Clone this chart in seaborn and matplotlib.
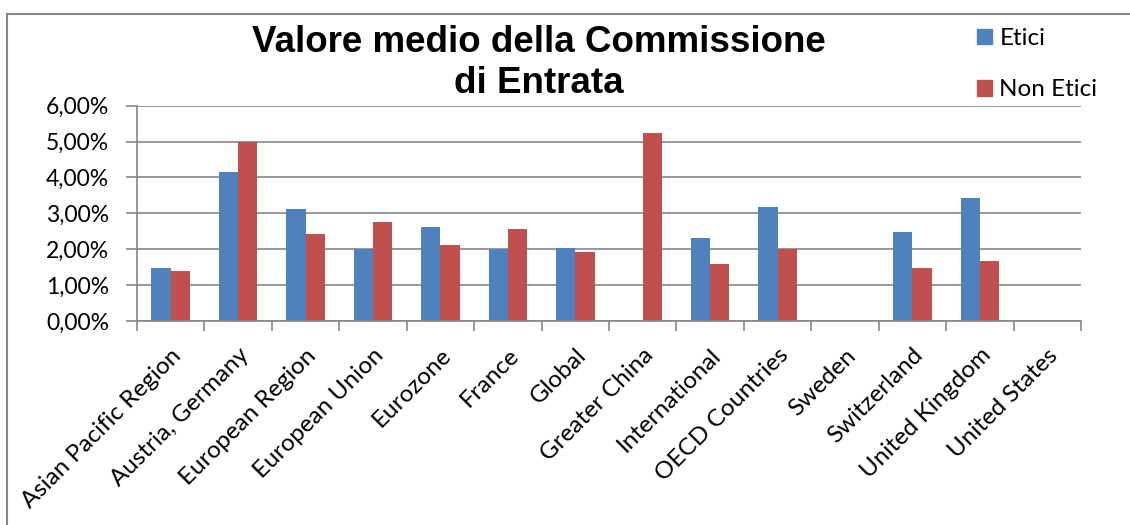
import numpy as np
import pandas as pd
import matplotlib
matplotlib.use("Agg")
import matplotlib.pyplot as plt
from matplotlib.patches import Rectangle
from matplotlib.ticker import FuncFormatter, FixedLocator
import seaborn as sns

categories = [
    "Asian Pacific Region", "Austria, Germany", "European Region", "European Union",
    "Eurozone", "France", "Global", "Greater China", "International",
    "OECD Countries", "Sweden", "Switzerland", "United Kingdom", "United States",
]
etici = [1.49, 4.14, 3.12, 2.02, 2.61, 2.00, 2.03, np.nan, 2.30, 3.18, np.nan, 2.48, 3.44, np.nan]
non_etici = [1.39, 5.00, 2.43, 2.77, 2.11, 2.57, 1.92, 5.23, 1.59, 2.00, np.nan, 1.49, 1.68, np.nan]
series_names = ["Etici", "Non Etici"]
colors = ["#4F81BD", "#C0504D"]
title = "Valore medio della Commissione\ndi Entrata"

df = pd.DataFrame({
    "Paese": categories * 2,
    "Serie": [series_names[0]] * len(categories) + [series_names[1]] * len(categories),
    "Valore": etici + non_etici,
})

sns.set_theme(style="white")
plt.rcParams["font.family"] = ["Lato", "DejaVu Sans"]
plt.rcParams["text.color"] = "black"

W, H = 1130, 525
fig = plt.figure(figsize=(W / 100, H / 100), dpi=100)
ax = fig.add_axes([137 / W, 1 - 321 / H, (1081 - 137) / W, (321 - 105.7) / H])

grid_c = "#868686"

sns.barplot(
    data=df, x="Paese", y="Valore", hue="Serie",
    order=categories, hue_order=series_names, palette=colors,
    width=0.57, dodge=True, saturation=1, errorbar=None, legend=False, ax=ax,
)
for bar in ax.patches:
    bar.set_linewidth(0)

ax.set_ylim(0, 6)
ax.set_xlim(-0.5, len(categories) - 0.5)
ax.set_yticks(np.arange(0, 7, 1))
ax.yaxis.set_major_formatter(FuncFormatter(lambda v, p: f"{v:.2f}%".replace(".", ",")))
ax.yaxis.grid(True, color=grid_c, linewidth=1.2)
ax.set_axisbelow(True)
ax.set_xlabel("")
ax.set_ylabel("")

for s in ["top", "right"]:
    ax.spines[s].set_visible(False)
for s in ["left", "bottom"]:
    ax.spines[s].set_color(grid_c)
    ax.spines[s].set_linewidth(1.2)

ax.tick_params(axis="y", which="major", left=True, length=8, width=1.2, color=grid_c,
               labelsize=16.5, labelcolor="black", pad=12)
ax.tick_params(axis="x", which="major", bottom=False, length=0)
ax.xaxis.set_minor_locator(FixedLocator(np.arange(-0.5, len(categories), 1)))
ax.tick_params(axis="x", which="minor", bottom=True, length=7, width=1.2, color=grid_c)

ax.set_xticks(range(len(categories)))
ax.set_xticklabels(categories, rotation=45, ha="right", va="top",
                   rotation_mode="anchor", fontsize=17.5, color="black")
ax.tick_params(axis="x", which="major", pad=17)

fig.text(539 / W, 1 - 63 / H, title, ha="center", va="center", fontsize=26.5,
         fontweight="bold", family=["Liberation Sans", "DejaVu Sans"],
         linespacing=1.2, color="black")

# legend
handles = [Rectangle((0, 0), 1, 1, color=c) for c in colors]
fig.legend(handles, series_names, loc="upper left",
           bbox_to_anchor=(977 / W, 1 - 28 / H), frameon=False,
           fontsize=17.5, handlelength=0.62, handleheight=0.62, handletextpad=0.3,
           labelspacing=1.25, borderaxespad=0, borderpad=0, labelcolor="black")

# outer chart frame
fig.add_artist(Rectangle((7 / W, -0.1), 1.2, 1.1 - 14 / H, transform=fig.transFigure,
                         fill=False, edgecolor=grid_c, linewidth=1.5))

fig.savefig("out.png", dpi=100)
